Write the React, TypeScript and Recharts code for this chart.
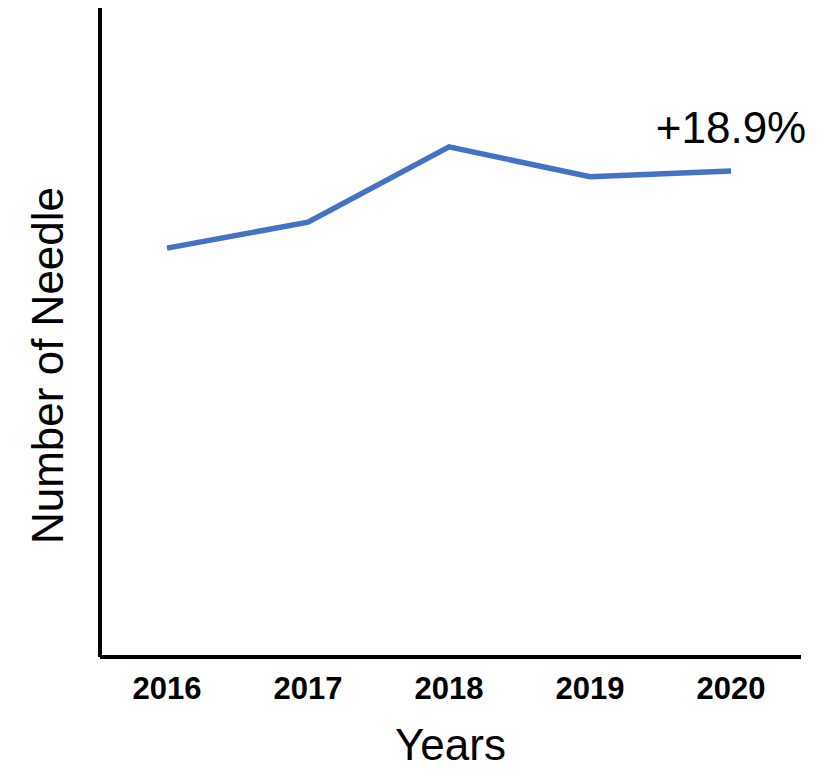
import React from "react";
import { LineChart, Line, XAxis, YAxis, Label, LabelList } from "recharts";

const years = ["2016", "2017", "2018", "2019", "2020"];
const needles = [63.0, 67.0, 78.6, 74.0, 74.9];
const growthLabel = "+18.9%";

const data = years.map((y, i) => ({ year: y, value: needles[i] }));

const FONT = "'Liberation Sans', Arial, sans-serif";

const GrowthLabel = (props: any) => {
  const { x, y, index } = props;
  if (index !== years.length - 1) return null;
  return (
    <text x={x} y={y - 28} textAnchor="middle" fontSize={44} fontFamily={FONT} fill="#000">
      {growthLabel}
    </text>
  );
};

const YTitle = (props: any) => {
  const vb = props.viewBox || {};
  const cx = vb.x + vb.width - 53;
  const cy = vb.y + vb.height / 2 + 33;
  return (
    <text
      x={cx}
      y={cy}
      textAnchor="middle"
      dominantBaseline="central"
      fontSize={44}
      fontFamily={FONT}
      fill="#000"
      transform={`rotate(-90, ${cx}, ${cy})`}
    >
      Number of Needle
    </text>
  );
};

const XTitle = (props: any) => {
  const vb = props.viewBox || {};
  return (
    <text
      x={vb.x + vb.width / 2}
      y={vb.y + 103}
      textAnchor="middle"
      fontSize={44}
      fontFamily={FONT}
      fill="#000"
    >
      Years
    </text>
  );
};

export default function App() {
  return (
    <div style={{ position: "absolute", left: 0, top: 0, width: 821, height: 771, background: "#fff" }}>
      <LineChart width={821} height={771} data={data} margin={{ top: 8, right: 20, bottom: 0, left: 0 }}>
        <XAxis
          dataKey="year"
          padding={{ left: 67, right: 70 }}
          height={114}
          tickLine={false}
          tickSize={0}
          tickMargin={20}
          axisLine={{ stroke: "#000", strokeWidth: 4 }}
          tick={{ fontSize: 31, fontWeight: "bold", fill: "#000", fontFamily: FONT }}
        >
          <Label content={<XTitle />} />
        </XAxis>
        <YAxis
          width={100}
          domain={[0, 100]}
          tick={false}
          tickLine={false}
          axisLine={{ stroke: "#000", strokeWidth: 4 }}
        >
          <Label content={<YTitle />} />
        </YAxis>
        <Line
          type="linear"
          dataKey="value"
          stroke="#4472C4"
          strokeWidth={5.5}
          dot={false}
          isAnimationActive={false}
        >
          <LabelList dataKey="value" content={<GrowthLabel />} />
        </Line>
      </LineChart>
    </div>
  );
}
